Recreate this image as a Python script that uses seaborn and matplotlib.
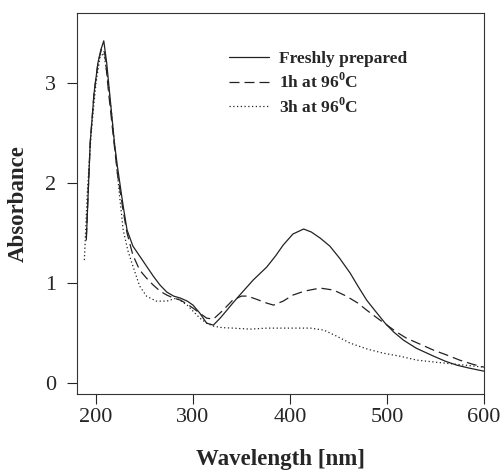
import matplotlib
matplotlib.use("Agg")
import matplotlib.pyplot as plt
import seaborn as sns
import pandas as pd

fresh_nm = [190,194,198,202,205,208,211,215,219,222,228,232,238,245,252,259,266,273,280,287,294,300,307,314,321,328,335,341,350,362,376,385,393,403,414,422,431,441,451,462,470,479,488,498,507,517,530,548,560,572,585,600]
fresh_abs = [1.43,2.4,2.9,3.2,3.33,3.42,3.2,2.8,2.4,2.17,1.77,1.53,1.37,1.27,1.17,1.07,0.98,0.91,0.87,0.85,0.82,0.78,0.70,0.60,0.58,0.65,0.73,0.80,0.90,1.03,1.16,1.27,1.38,1.49,1.54,1.51,1.45,1.37,1.25,1.10,0.97,0.83,0.72,0.60,0.51,0.43,0.35,0.27,0.22,0.18,0.15,0.12]

h1_nm = [190,194,198,202,206,209,213,218,222,228,232,238,245,252,259,266,273,280,287,294,300,307,314,321,330,341,350,356,365,376,383,393,403,415,431,445,458,470,479,490,500,510,520,534,548,562,575,588,600]
h1_abs = [1.45,2.4,2.9,3.2,3.35,3.3,2.9,2.45,2.1,1.72,1.5,1.28,1.13,1.05,0.98,0.92,0.88,0.85,0.83,0.79,0.75,0.70,0.65,0.64,0.72,0.83,0.87,0.87,0.84,0.80,0.78,0.82,0.88,0.92,0.95,0.93,0.87,0.80,0.73,0.65,0.58,0.51,0.45,0.39,0.33,0.28,0.23,0.19,0.16]

h3_nm = [188,191,195,200,204,208,212,216,220,224,228,233,238,245,252,262,273,283,294,300,307,314,321,330,341,359,376,400,421,435,448,462,480,496,513,531,550,575,600]
h3_abs = [1.23,1.9,2.5,3.0,3.25,3.3,3.05,2.7,2.3,1.9,1.53,1.32,1.17,0.97,0.87,0.82,0.82,0.85,0.78,0.72,0.65,0.60,0.57,0.555,0.55,0.54,0.55,0.55,0.55,0.53,0.47,0.40,0.34,0.30,0.27,0.23,0.21,0.185,0.16]

labels = ["Freshly prepared", r"1h at 96$^{\mathbf{0}}$C", r"3h at 96$^{\mathbf{0}}$C"]

df = pd.concat([
    pd.DataFrame({"nm": fresh_nm, "abs": fresh_abs, "s": labels[0]}),
    pd.DataFrame({"nm": h1_nm, "abs": h1_abs, "s": labels[1]}),
    pd.DataFrame({"nm": h3_nm, "abs": h3_abs, "s": labels[2]}),
])

sns.set_style("ticks")
plt.rcParams["font.family"] = ["Liberation Serif", "DejaVu Serif"]
plt.rcParams["mathtext.fontset"] = "custom"
plt.rcParams["mathtext.rm"] = "Liberation Serif:bold"
plt.rcParams["mathtext.bf"] = "Liberation Serif:bold"

fig = plt.figure(figsize=(5, 4.74), dpi=100)
ax = fig.add_axes([0.154, 0.169, 0.814, 0.804])

sns.lineplot(data=df, x="nm", y="abs", hue="s", style="s",
             palette=["#222222"] * 3,
             dashes={labels[0]: "", labels[1]: (8, 4), labels[2]: (1, 2)},
             linewidth=0.9, ax=ax, sort=False, estimator=None)

ax.set_xlim(180.4, 600)
ax.set_ylim(-0.107, 3.70)
ax.set_xticks([200, 300, 400, 500, 600])
ax.set_yticks([0, 1, 2, 3])
ax.tick_params(labelsize=16, length=7, width=0.8, direction="out")
ax.tick_params(axis="x", pad=3)
ax.tick_params(axis="y", pad=8)
for sp in ax.spines.values():
    sp.set_linewidth(0.8)
    sp.set_color("#333333")
ax.set_xlabel("Wavelength [nm]", fontsize=16.5, fontweight="bold", labelpad=16)
ax.set_ylabel("Absorbance", fontsize=16.5, fontweight="bold", labelpad=12)

leg = ax.legend(loc="upper left", bbox_to_anchor=(0.335, 0.94), frameon=False,
                handlelength=2.3, fontsize=12.5, labelspacing=0.3, handletextpad=0.6)
for t in leg.get_texts():
    t.set_fontweight("bold")

fig.savefig("out.png", dpi=100)
